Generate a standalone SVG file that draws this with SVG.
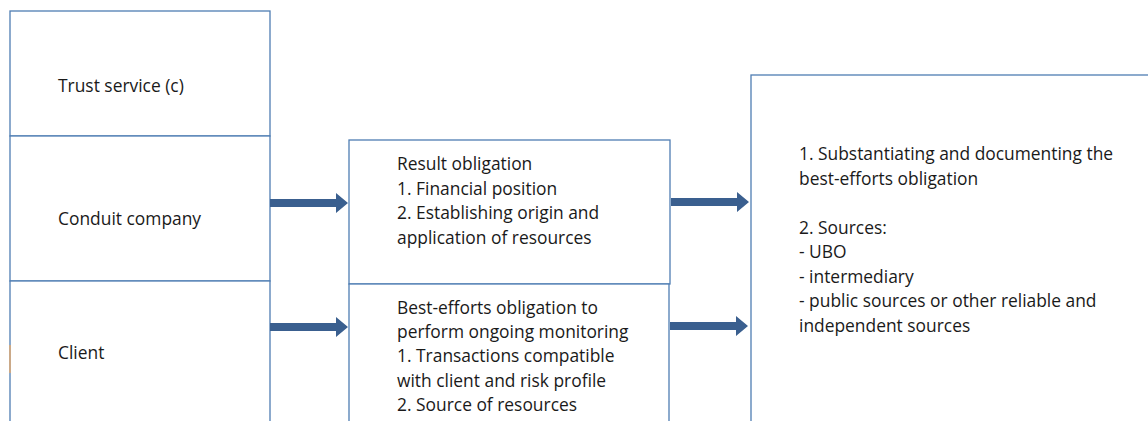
<svg xmlns="http://www.w3.org/2000/svg" width="1148" height="421" viewBox="0 0 1148 421">
<style>
.box{fill:#fff;stroke:#4f7db3;stroke-width:1.3}
.t{font-family:"Open Sans","Liberation Sans",sans-serif;font-size:17.4px;fill:#1a1a1a}
.arr{fill:#3a5f8f}
</style>
<defs>
<path id="arrow" d="M0,-4 L66,-4 L66,-10 L78,0 L66,10 L66,4 L0,4 Z"/>
</defs>
<rect width="1148" height="421" fill="#fff"/>
<g id="trust-service">
<rect class="box" x="10" y="11" width="260" height="125"/>
<text class="t" x="58" y="92">Trust service (c)</text>
</g>
<g id="conduit-company">
<rect class="box" x="10" y="136" width="260" height="145"/>
<text class="t" x="58" y="225">Conduit company</text>
</g>
<g id="client">
<rect class="box" x="10" y="281" width="260" height="160"/>
<line x1="10" y1="345" x2="10" y2="373" stroke="#e0a870" stroke-width="1.5"/>
<text class="t" x="58" y="359">Client</text>
</g>
<g id="result-obligation">
<rect class="box" x="349" y="140" width="321" height="144"/>
<text class="t" x="397" y="170">Result obligation</text>
<text class="t" x="397" y="195">1. Financial position</text>
<text class="t" x="397" y="219">2. Establishing origin and</text>
<text class="t" x="397" y="244">application of resources</text>
</g>
<g id="best-efforts-obligation">
<rect class="box" x="349" y="284" width="320" height="160"/>
<text class="t" x="397" y="314">Best-efforts obligation to</text>
<text class="t" x="397" y="338">perform ongoing monitoring</text>
<text class="t" x="397" y="362">1. Transactions compatible</text>
<text class="t" x="397" y="387">with client and risk profile</text>
<text class="t" x="397" y="411">2. Source of resources</text>
</g>
<g id="documentation">
<rect class="box" x="751" y="75" width="420" height="380"/>
<text class="t" x="799" y="160">1. Substantiating and documenting the</text>
<text class="t" x="799" y="185">best-efforts obligation</text>
<text class="t" x="799" y="234">2. Sources:</text>
<text class="t" x="799" y="258">- UBO</text>
<text class="t" x="799" y="283">- intermediary</text>
<text class="t" x="799" y="307">- public sources or other reliable and</text>
<text class="t" x="799" y="332">independent sources</text>
</g>
<g id="connectors" class="arr">
<use href="#arrow" transform="translate(270,203)"/>
<use href="#arrow" transform="translate(270,327)"/>
<use href="#arrow" transform="translate(671,202)"/>
<use href="#arrow" transform="translate(670,326)"/>
</g>
</svg>
